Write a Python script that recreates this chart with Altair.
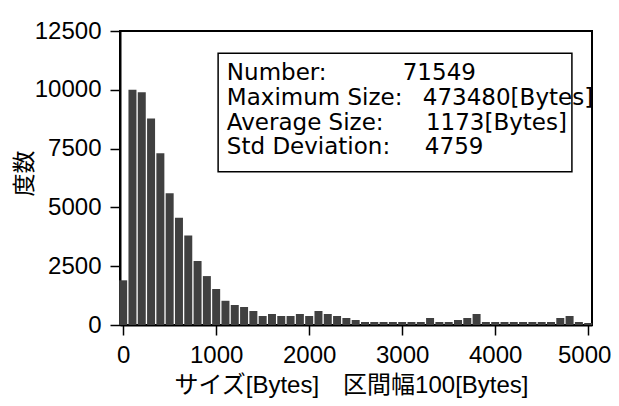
import altair as alt
import pandas as pd

bin_centers = list(range(0, 5100, 100))
counts = [1900, 10000, 9900, 8780, 7300, 5600, 4560, 3800, 2720, 2080,
          1530, 1030, 850, 765, 595, 383, 468, 383, 383, 468,
          383, 595, 468, 383, 298, 212, 128, 128, 128, 128,
          128, 128, 128, 298, 128, 128, 212, 298, 468, 128,
          128, 128, 128, 128, 128, 128, 128, 298, 383, 128,
          85]

stat_labels = ["Number:", "Maximum Size:", "Average Size:", "Std Deviation:"]
stat_values = ["71549", "473480[Bytes]", "1173[Bytes]", "4759"]
stat_label_x = [1115, 1115, 1115, 1115]
stat_value_x = [3006, 3222, 3255, 3244]
stat_y = [10417, 9354, 8291, 7258]
box_x = [1021, 4825]
box_y = [6518, 11553]

x_ticks = [0, 1000, 2000, 3000, 4000, 5000]
y_ticks = [0, 2500, 5000, 7500, 10000, 12500]

bars_df = pd.DataFrame({"x0": [c - 43 for c in bin_centers],
                        "x1": [c + 43 for c in bin_centers],
                        "count": counts})

xscale = alt.Scale(domain=[-34, 5041], nice=False, zero=False)
yscale = alt.Scale(domain=[0, 12500], nice=False)

X_TITLE = "サイズ[Bytes]　区間幅100[Bytes]"
TFONT = "Liberation Sans, Noto Sans CJK JP"

bars = alt.Chart(bars_df).mark_rect(color="#404040").encode(
    x=alt.X("x0:Q", scale=xscale,
            axis=alt.Axis(values=x_ticks, format="d", title=X_TITLE, grid=False,
                          labelFontSize=24, titleFontSize=24, labelFont="Liberation Sans",
                          titleFont=TFONT, titleFontWeight="normal",
                          tickSize=10, tickColor="black", domainColor="black",
                          domainWidth=2, tickWidth=1.5, labelColor="black",
                          titleColor="black", labelPadding=8,
                          labelOffset={"condition": {"test": "datum.value == 5000", "value": -4}, "value": 0},
                          titleX=231, titleY=60, titleBaseline="middle", titleAlign="center",
                          labelFlush=False)),
    x2="x1:Q",
    y=alt.Y("count:Q", scale=yscale,
            axis=alt.Axis(values=y_ticks, format="d", title="度数", grid=False,
                          labelFontSize=24, titleFontSize=23, labelFont="Liberation Sans",
                          titleFont="Noto Sans CJK JP", titleFontWeight="normal",
                          tickSize=10, tickColor="black", domainColor="black",
                          domainWidth=2, tickWidth=1.5, labelColor="black",
                          titleColor="black", labelPadding=9,
                          titleX=-96, titleY=142, titleBaseline="middle", titleAlign="center")),
    y2=alt.datum(0),
)

box_df = pd.DataFrame({"a": [box_x[0]], "b": [box_x[1]], "c": [box_y[0]], "d": [box_y[1]]})
box = alt.Chart(box_df).mark_rect(fill="white", stroke="black", strokeWidth=1.5).encode(
    x=alt.X("a:Q", scale=xscale), x2="b:Q",
    y=alt.Y("c:Q", scale=yscale), y2="d:Q")

lab_df = pd.DataFrame({"lbl": stat_labels, "val": stat_values, "lx": stat_label_x,
                       "vx": stat_value_x, "y": stat_y})
labels = alt.Chart(lab_df).mark_text(align="left", baseline="alphabetic", fontSize=23,
                                     font="DejaVu Sans", color="black").encode(
    x=alt.X("lx:Q", scale=xscale), y=alt.Y("y:Q", scale=yscale), text="lbl:N")
values = alt.Chart(lab_df).mark_text(align="left", baseline="alphabetic", fontSize=23,
                                     font="DejaVu Sans", color="black").encode(
    x=alt.X("vx:Q", scale=xscale), y=alt.Y("y:Q", scale=yscale), text="val:N")

chart = alt.layer(bars, box, labels, values).properties(
    width=472, height=294,
    autosize=alt.AutoSizeParams(type="none"),
    padding={"left": 112, "top": 23, "right": 19, "bottom": 73},
).configure_view(stroke="black", strokeWidth=2)

chart.save("out.html", embed_options={"renderer": "svg", "actions": False})
